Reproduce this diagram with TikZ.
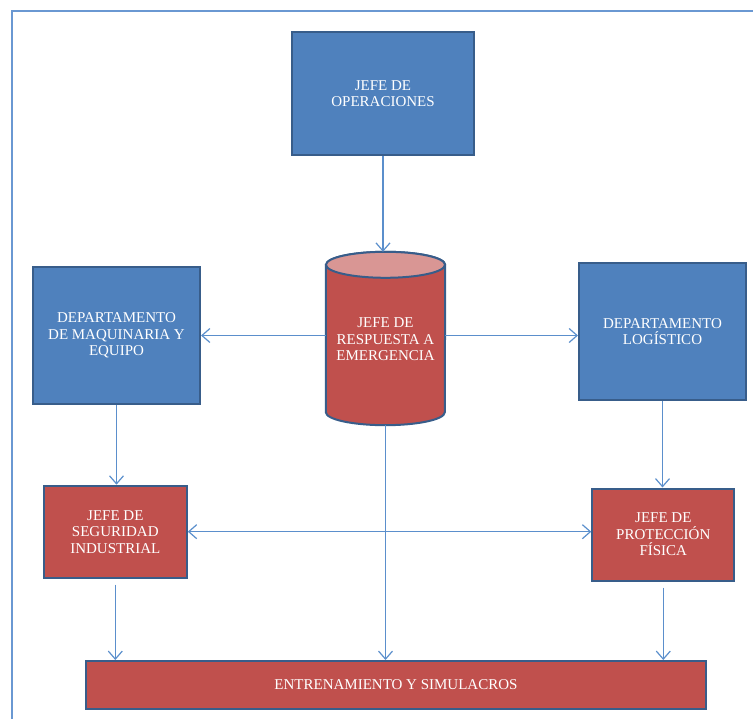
\documentclass[tikz,border=0pt]{standalone}
\usepackage{fontspec}
\setmainfont{Liberation Serif}
\usetikzlibrary{arrows.meta,backgrounds}
\definecolor{boxblue}{HTML}{4F81BD}
\definecolor{edgeblue}{HTML}{385D8A}
\definecolor{boxred}{HTML}{C0504D}
\definecolor{capred}{HTML}{D99694}
\definecolor{linkblue}{HTML}{5B8FCC}
\definecolor{framecol}{HTML}{6A98D2}
\begin{document}
\begin{tikzpicture}[x=1pt,y=-1pt,
  unit/.style={draw=edgeblue, line width=2pt, text=white, align=center,
    font=\fontsize{15}{16.5}\selectfont, inner sep=2pt},
  bluebox/.style={unit, fill=boxblue},
  redbox/.style={unit, fill=boxred},
  tip/.tip={Straight Barb[length=8pt,width=14pt]},
  link/.style={draw=linkblue, line width=1.2pt, -tip},
  bilink/.style={draw=linkblue, line width=1.2pt, tip-tip},
]
\clip (0,0) rectangle (753,719);
% page frame
\draw[framecol, line width=2pt] (12,11) rectangle (800,800);

% boxes
\node[bluebox, minimum width=182pt, minimum height=123pt] (ops) at (383,93.5) {JEFE DE\\OPERACIONES};
\node[bluebox, minimum width=167pt, minimum height=137pt] (maq) at (116.5,335.5) {DEPARTAMENTO\\DE MAQUINARIA Y\\EQUIPO};
\node[bluebox, minimum width=167pt, minimum height=137pt] (log) at (662.5,331.7) {DEPARTAMENTO\\LOGÍSTICO};
\node[redbox, minimum width=143pt, minimum height=92pt] (seg) at (115.3,531.7) {JEFE DE\\SEGURIDAD\\INDUSTRIAL};
\node[redbox, minimum width=142pt, minimum height=92pt] (prot) at (663.3,534.5) {JEFE DE\\PROTECCIÓN\\FÍSICA};
\node[redbox, minimum width=620pt, minimum height=48pt] (ent) at (396,685) {ENTRENAMIENTO Y SIMULACROS};

% cylinder holding the central role
\node[minimum width=119pt, minimum height=173pt, inner sep=0pt, text=white, align=center,
  font=\fontsize{15}{16.5}\selectfont] (cyl) at (385.5,338.5) {\\[-5pt]JEFE DE\\RESPUESTA A\\EMERGENCIA};
\begin{pgfonlayer}{background}
\path[fill=boxred, draw=edgeblue, line width=2pt]
  ([yshift=-13pt]cyl.north west) -- ([yshift=13pt]cyl.south west)
  arc[start angle=180, end angle=360, x radius=59.5pt, y radius=13pt]
  -- ([yshift=-13pt]cyl.north east)
  arc[start angle=0, end angle=180, x radius=59.5pt, y radius=13pt] -- cycle;
\path[fill=capred, draw=edgeblue, line width=2pt]
  ([yshift=-13pt]cyl.north) ellipse[x radius=59.5pt, y radius=13pt];
\end{pgfonlayer}

% connectors
\draw[link] (ops.south) -- (cyl.north -| ops.south);
\draw[link] (cyl.west |- maq.east) -- (maq.east);
\draw[link] (cyl.east |- maq.east) -- (log.west |- maq.east);
\draw[link] (maq.south) -- (seg.north -| maq.south);
\draw[link] (log.south) -- (prot.north -| log.south);
\draw[bilink] (seg.east) -- (prot.west |- seg.east);
\draw[link] ([yshift=-6pt]seg.south) -- (ent.north -| seg.south);
\draw[link] (cyl.south) -- (ent.north -| cyl.south);
\draw[link] ([yshift=-6pt]prot.south) -- (ent.north -| prot.south);
\end{tikzpicture}
\end{document}
